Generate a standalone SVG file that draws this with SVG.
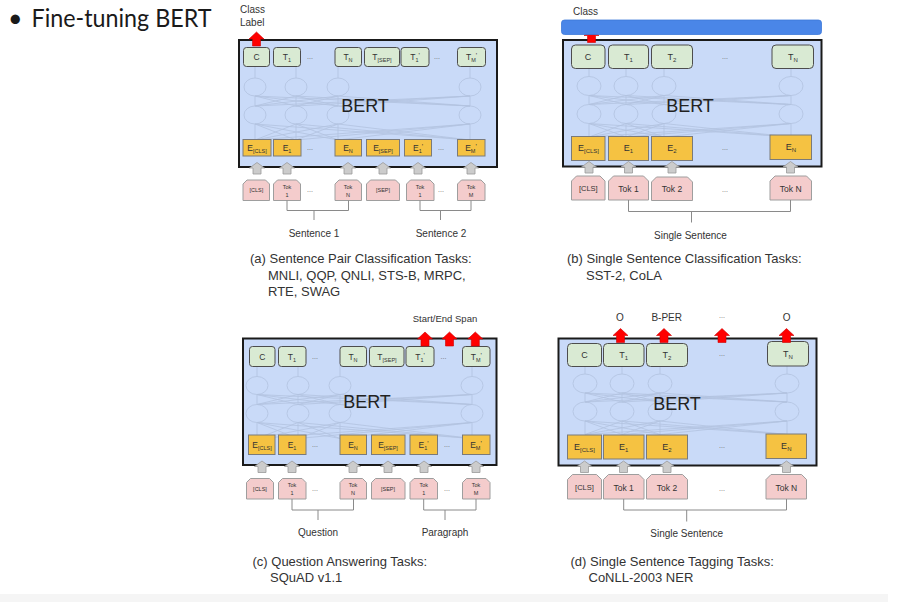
<svg xmlns="http://www.w3.org/2000/svg" xmlns:xlink="http://www.w3.org/1999/xlink" width="914" height="602" viewBox="0 0 914 602">
<style>
text{font-family:"Liberation Sans",Arial,sans-serif;fill:#333}
.bert{fill:#c9daf8;stroke:#1a1a1a;stroke-width:2}
.t{fill:#d9ead3;stroke:#4d4d4d;stroke-width:1}
.e{fill:#f5c242;stroke:#7a7a7a;stroke-width:1}
.tok{fill:#f4cccc;stroke:#9e9e9e;stroke-width:1;stroke-linejoin:round}
.mesh{fill:none;stroke:#afbfdc;stroke-width:0.8;opacity:0.85}
.br{fill:none;stroke:#8a8a8a;stroke-width:1}
.bt{font-size:18px;fill:#222;text-anchor:middle}
.s{font-size:8.5px;text-anchor:middle}
.sb{font-size:5.5px}
.pr{font-size:7px}
.L{font-size:9px;text-anchor:middle}
.Lb{font-size:6px}
.k{font-size:5.5px;text-anchor:middle}
.kb{font-size:8.5px;text-anchor:middle}
.d{font-size:7px;fill:#666;text-anchor:middle}
.lab{font-size:10px;text-anchor:middle}
.cap{font-size:13px;fill:#333}
</style>
<defs>
<path id="ra" d="M0,0 L7.5,7 L4,7 L4,14 L-4,14 L-4,7 L-7.5,7 Z" fill="#ff0000" stroke="#cc0000" stroke-width="0.6"/>
<path id="ga" d="M0,0 L7.5,5.5 L4,5.5 L4,11.5 L-4,11.5 L-4,5.5 L-7.5,5.5 Z" fill="#cccccc" stroke="#999999" stroke-width="0.8"/>
<g id="meshA" class="mesh">
<ellipse cx="255" cy="87" rx="11" ry="9"/><ellipse cx="296" cy="87" rx="11" ry="9"/><ellipse cx="338" cy="87" rx="11" ry="9"/><ellipse cx="470" cy="87" rx="11" ry="9"/>
<ellipse cx="255" cy="115" rx="11" ry="9"/><ellipse cx="296" cy="115" rx="11" ry="9"/><ellipse cx="338" cy="115" rx="11" ry="9"/><ellipse cx="470" cy="115" rx="11" ry="9"/>
<path d="M255,66.5V78M296,66.5V78M338,66.5V78M470,66.5V78
M255,96L255,106M255,96L296,106M255,96L338,106M255,96L470,106
M296,96L255,106M296,96L296,106M296,96L338,106M296,96L470,106
M338,96L255,106M338,96L296,106M338,96L338,106M338,96L470,106
M470,96L255,106M470,96L296,106M470,96L338,106M470,96L470,106
M255,124L255,140M255,124L296,140M255,124L338,140M255,124L470,140
M296,124L255,140M296,124L296,140M296,124L338,140M296,124L470,140
M338,124L255,140M338,124L296,140M338,124L338,140M338,124L470,140
M470,124L255,140M470,124L296,140M470,124L338,140M470,124L470,140"/>
</g>
<g id="meshB" class="mesh">
<ellipse cx="589" cy="86" rx="12" ry="9.5"/><ellipse cx="626" cy="86" rx="12" ry="9.5"/><ellipse cx="664" cy="86" rx="12" ry="9.5"/><ellipse cx="791" cy="86" rx="12" ry="9.5"/>
<ellipse cx="589" cy="114" rx="12" ry="9.5"/><ellipse cx="626" cy="114" rx="12" ry="9.5"/><ellipse cx="664" cy="114" rx="12" ry="9.5"/><ellipse cx="791" cy="114" rx="12" ry="9.5"/>
<path d="M589,68.5V76.5M626,68.5V76.5M664,68.5V76.5M791,68.5V76.5
M589,95.5L589,104.5M589,95.5L626,104.5M589,95.5L664,104.5M589,95.5L791,104.5
M626,95.5L589,104.5M626,95.5L626,104.5M626,95.5L664,104.5M626,95.5L791,104.5
M664,95.5L589,104.5M664,95.5L626,104.5M664,95.5L664,104.5M664,95.5L791,104.5
M791,95.5L589,104.5M791,95.5L626,104.5M791,95.5L664,104.5M791,95.5L791,104.5
M589,123.5L589,137M589,123.5L626,137M589,123.5L664,137M589,123.5L791,137
M626,123.5L589,137M626,123.5L626,137M626,123.5L664,137M626,123.5L791,137
M664,123.5L589,137M664,123.5L626,137M664,123.5L664,137M664,123.5L791,137
M791,123.5L589,137M791,123.5L626,137M791,123.5L664,137M791,123.5L791,137"/>
</g>
</defs>
<rect width="914" height="602" fill="#ffffff"/>
<rect x="0" y="594" width="888" height="8" fill="#f5f5f5"/>

<g id="title">
<text x="8" y="27" style="font-family:Lato,'Open Sans',sans-serif;font-size:25px;fill:#1a1a1a">•</text>
<text x="31.5" y="27" textLength="180" lengthAdjust="spacingAndGlyphs" style="font-family:Lato,'Open Sans',sans-serif;font-size:25px;fill:#1a1a1a">Fine-tuning BERT</text>
</g>

<!-- ================= Panel A ================= -->
<g id="panelA">
<g id="bertA">
<rect class="bert" x="239" y="40" width="258" height="127"/>
<use href="#meshA"/>
<text class="bt" x="365" y="111.5">BERT</text>
</g>
<g id="A_T">
<rect class="t" x="243.5" y="47.5" width="26" height="19" rx="3"/><text class="s" x="256.5" y="60">C</text>
<rect class="t" x="273.5" y="47.5" width="27" height="19" rx="3"/><text class="s" x="287" y="60">T<tspan class="sb" dy="2">1</tspan></text>
<text class="d" x="310" y="59">...</text>
<rect class="t" x="335" y="47.5" width="26.5" height="19" rx="3"/><text class="s" x="348" y="60">T<tspan class="sb" dy="2">N</tspan></text>
<rect class="t" x="364.5" y="47.5" width="35" height="19" rx="3"/><text class="s" x="382" y="60">T<tspan class="sb" dy="2">[SEP]</tspan></text>
<rect class="t" x="401" y="47.5" width="28" height="19" rx="3"/><text class="s" x="415" y="60">T<tspan class="sb" dy="2">1</tspan><tspan class="pr" dy="-4">'</tspan></text>
<text class="d" x="437" y="59">...</text>
<rect class="t" x="457.5" y="47.5" width="28" height="19" rx="3"/><text class="s" x="471.5" y="60">T<tspan class="sb" dy="2">M</tspan><tspan class="pr" dy="-4">'</tspan></text>
</g>
<g id="A_E">
<rect class="e" x="243" y="139.5" width="28" height="16.5"/><text class="s" x="257" y="151">E<tspan class="sb" dy="2">[CLS]</tspan></text>
<rect class="e" x="273.5" y="139.5" width="27.5" height="16.5"/><text class="s" x="287" y="151">E<tspan class="sb" dy="2">1</tspan></text>
<text class="d" x="310" y="150">...</text>
<rect class="e" x="335" y="139.5" width="26.5" height="16.5"/><text class="s" x="348" y="151">E<tspan class="sb" dy="2">N</tspan></text>
<rect class="e" x="366.5" y="139.5" width="33" height="16.5"/><text class="s" x="383" y="151">E<tspan class="sb" dy="2">[SEP]</tspan></text>
<rect class="e" x="404.5" y="139.5" width="27" height="16.5"/><text class="s" x="418" y="151">E<tspan class="sb" dy="2">1</tspan><tspan class="pr" dy="-4">'</tspan></text>
<text class="d" x="441" y="150">...</text>
<rect class="e" x="457.5" y="139.5" width="27.5" height="16.5"/><text class="s" x="471" y="151">E<tspan class="sb" dy="2">M</tspan><tspan class="pr" dy="-4">'</tspan></text>
</g>
<g id="A_Tok">
<path class="tok" d="M247,180H265.5L269.5,184V200.5H243V184Z"/><text class="k" x="256.3" y="192">[CLS]</text>
<path class="tok" d="M277.5,180H296.5L300.5,184V200.5H273.5V184Z"/><text class="k" x="287" y="188.5">Tok</text><text class="k" x="287" y="196.5">1</text>
<text class="d" x="310" y="192">...</text>
<path class="tok" d="M339,180H357.5L361.5,184V200.5H335V184Z"/><text class="k" x="348" y="188.5">Tok</text><text class="k" x="348" y="196.5">N</text>
<path class="tok" d="M370.5,180H395.5L399.5,184V200.5H366.5V184Z"/><text class="k" x="383" y="192">[SEP]</text>
<path class="tok" d="M410.5,180H430L434,184V200.5H406.5V184Z"/><text class="k" x="420" y="188.5">Tok</text><text class="k" x="420" y="196.5">1</text>
<text class="d" x="441" y="192">...</text>
<path class="tok" d="M461.5,180H481L485,184V200.5H457.5V184Z"/><text class="k" x="471" y="188.5">Tok</text><text class="k" x="471" y="196.5">M</text>
</g>
<g id="A_labels">
<text style="font-size:10px" x="240" y="13">Class</text>
<text style="font-size:10px" x="240" y="26">Label</text>
<text class="lab" x="314" y="236.5">Sentence 1</text>
<text class="lab" x="441" y="236.5">Sentence 2</text>
</g>
<g id="A_caption" class="cap">
<text class="cap" x="250" y="263">(a) Sentence Pair Classification Tasks:</text>
<text class="cap" x="268" y="279.5">MNLI, QQP, QNLI, STS-B, MRPC,</text>
<text class="cap" x="268" y="296">RTE, SWAG</text>
</g>
</g>

<!-- ================= Panel B ================= -->
<g id="panelB">
<g id="bertB">
<rect class="bert" x="563" y="40" width="258.5" height="126.5"/>
<use href="#meshB"/>
<text class="bt" x="690" y="111.5">BERT</text>
</g>
<g id="B_T">
<rect class="t" x="571.5" y="45" width="33.5" height="23.5" rx="4"/><text class="L" x="588" y="60">C</text>
<rect class="t" x="608.5" y="45" width="40" height="23.5" rx="4"/><text class="L" x="628.5" y="60">T<tspan class="Lb" dy="2">1</tspan></text>
<rect class="t" x="651.5" y="45" width="41" height="23.5" rx="4"/><text class="L" x="672" y="60">T<tspan class="Lb" dy="2">2</tspan></text>
<text class="d" x="725" y="59">...</text>
<rect class="t" x="772" y="45" width="41.5" height="23.5" rx="4"/><text class="L" x="793" y="60">T<tspan class="Lb" dy="2">N</tspan></text>
</g>
<g id="B_E">
<rect class="e" x="571.5" y="136.5" width="33.5" height="24"/><text class="L" x="588.5" y="151">E<tspan class="Lb" dy="2">[CLS]</tspan></text>
<rect class="e" x="608.5" y="136.5" width="40" height="24"/><text class="L" x="628.5" y="151">E<tspan class="Lb" dy="2">1</tspan></text>
<rect class="e" x="651.5" y="136.5" width="41" height="24"/><text class="L" x="672" y="151">E<tspan class="Lb" dy="2">2</tspan></text>
<text class="d" x="725" y="150">...</text>
<rect class="e" x="770" y="135" width="41.5" height="24.5"/><text class="L" x="791" y="150">E<tspan class="Lb" dy="2">N</tspan></text>
</g>
<g id="B_Tok">
<path class="tok" d="M576.5,176H600L605,181V200H571.5V181Z"/><text class="kb" x="588.3" y="191" style="font-size:7.5px">[CLS]</text>
<path class="tok" d="M613.5,176H643.5L648.5,181V200H608.5V181Z"/><text class="kb" x="628.5" y="191.5">Tok 1</text>
<path class="tok" d="M656.5,177H687.5L692.5,182V200.5H651.5V182Z"/><text class="kb" x="672" y="192">Tok 2</text>
<text class="d" x="725" y="192">...</text>
<path class="tok" d="M775,176H806.5L811.5,181V200H770V181Z"/><text class="kb" x="790.7" y="191.5">Tok N</text>
</g>
<g id="B_labels">
<text style="font-size:10px" x="573" y="15">Class</text>
<text class="lab" x="690.5" y="238.5">Single Sentence</text>
</g>
<g id="B_caption">
<text class="cap" x="567" y="263">(b) Single Sentence Classification Tasks:</text>
<text class="cap" x="586" y="279.5">SST-2, CoLA</text>
</g>
</g>

<!-- ================= Panel C ================= -->
<g id="panelC">
<g id="bertC">
<rect class="bert" x="243" y="338.5" width="253.5" height="126.5"/>
<use href="#meshA" transform="translate(2,298.5)"/>
<text class="bt" x="367" y="408">BERT</text>
</g>
<g id="C_T">
<rect class="t" x="249.5" y="346.5" width="25.5" height="20" rx="3"/><text class="s" x="262.3" y="359.5">C</text>
<rect class="t" x="278.5" y="346.5" width="27.5" height="20" rx="3"/><text class="s" x="292" y="359.5">T<tspan class="sb" dy="2">1</tspan></text>
<text class="d" x="315" y="358.5">...</text>
<rect class="t" x="340" y="346.5" width="26.5" height="20" rx="3"/><text class="s" x="353" y="359.5">T<tspan class="sb" dy="2">N</tspan></text>
<rect class="t" x="369.5" y="346.5" width="34.5" height="20" rx="3"/><text class="s" x="387" y="359.5">T<tspan class="sb" dy="2">[SEP]</tspan></text>
<rect class="t" x="406" y="346.5" width="28" height="20" rx="3"/><text class="s" x="420" y="359.5">T<tspan class="sb" dy="2">1</tspan><tspan class="pr" dy="-4">'</tspan></text>
<text class="d" x="443.5" y="358.5">...</text>
<rect class="t" x="462.5" y="346.5" width="27.5" height="20" rx="3"/><text class="s" x="476.3" y="359.5">T<tspan class="sb" dy="2">M</tspan><tspan class="pr" dy="-4">'</tspan></text>
</g>
<g id="C_E">
<rect class="e" x="248.5" y="435" width="26.5" height="19.5"/><text class="s" x="262" y="447.5">E<tspan class="sb" dy="2">[CLS]</tspan></text>
<rect class="e" x="278.5" y="435" width="27.5" height="19.5"/><text class="s" x="292" y="447.5">E<tspan class="sb" dy="2">1</tspan></text>
<text class="d" x="315" y="446.5">...</text>
<rect class="e" x="340" y="435" width="26.5" height="19.5"/><text class="s" x="353" y="447.5">E<tspan class="sb" dy="2">N</tspan></text>
<rect class="e" x="371.5" y="435" width="33.5" height="19.5"/><text class="s" x="388" y="447.5">E<tspan class="sb" dy="2">[SEP]</tspan></text>
<rect class="e" x="410" y="435" width="27.5" height="19.5"/><text class="s" x="423.5" y="447.5">E<tspan class="sb" dy="2">1</tspan><tspan class="pr" dy="-4">'</tspan></text>
<text class="d" x="447" y="446.5">...</text>
<rect class="e" x="462.5" y="435" width="27.5" height="19.5"/><text class="s" x="476" y="447.5">E<tspan class="sb" dy="2">M</tspan><tspan class="pr" dy="-4">'</tspan></text>
</g>
<g id="C_Tok">
<path class="tok" d="M250.5,478.5H269.5L273.5,482.5V499H246.5V482.5Z"/><text class="k" x="260" y="491">[CLS]</text>
<path class="tok" d="M282.5,478.5H302L306,482.5V499H278.5V482.5Z"/><text class="k" x="292" y="487">Tok</text><text class="k" x="292" y="495">1</text>
<text class="d" x="315" y="491">...</text>
<path class="tok" d="M344,478.5H362.5L366.5,482.5V499H340V482.5Z"/><text class="k" x="353" y="487">Tok</text><text class="k" x="353" y="495">N</text>
<path class="tok" d="M375.5,478.5H401L405,482.5V499H371.5V482.5Z"/><text class="k" x="388" y="491">[SEP]</text>
<path class="tok" d="M414,478.5H433.5L437.5,482.5V499H410V482.5Z"/><text class="k" x="423.7" y="487">Tok</text><text class="k" x="423.7" y="495">1</text>
<text class="d" x="447" y="491">...</text>
<path class="tok" d="M466.5,478.5H486L490,482.5V499H462.5V482.5Z"/><text class="k" x="476" y="487">Tok</text><text class="k" x="476" y="495">M</text>
</g>
<g id="C_labels">
<text class="lab" x="445" y="321.5" style="font-size:9.5px">Start/End Span</text>
<text class="lab" x="318" y="535.5">Question</text>
<text class="lab" x="445" y="535.5">Paragraph</text>
</g>
<g id="C_caption">
<text class="cap" x="252.5" y="566">(c) Question Answering Tasks:</text>
<text class="cap" x="270" y="581.5">SQuAD v1.1</text>
</g>
</g>

<!-- ================= Panel D ================= -->
<g id="panelD">
<g id="bertD">
<rect class="bert" x="558.5" y="338.5" width="258" height="127"/>
<use href="#meshB" transform="translate(-4,297.5)"/>
<text class="bt" x="677" y="410">BERT</text>
</g>
<g id="D_T">
<rect class="t" x="567.5" y="343.5" width="34" height="23" rx="4"/><text class="L" x="584.5" y="358">C</text>
<rect class="t" x="603.5" y="343.5" width="40.5" height="23" rx="4"/><text class="L" x="623.7" y="358">T<tspan class="Lb" dy="2">1</tspan></text>
<rect class="t" x="646.5" y="343.5" width="41" height="23" rx="4"/><text class="L" x="667" y="358">T<tspan class="Lb" dy="2">2</tspan></text>
<text class="d" x="722" y="356">...</text>
<rect class="t" x="767.5" y="341.5" width="41" height="24.5" rx="4"/><text class="L" x="788" y="357">T<tspan class="Lb" dy="2">N</tspan></text>
</g>
<g id="D_E">
<rect class="e" x="567.5" y="435" width="34" height="24"/><text class="L" x="584.5" y="449.5">E<tspan class="Lb" dy="2">[CLS]</tspan></text>
<rect class="e" x="603.5" y="435" width="40.5" height="24"/><text class="L" x="623.7" y="449.5">E<tspan class="Lb" dy="2">1</tspan></text>
<rect class="e" x="646.5" y="435" width="41" height="24"/><text class="L" x="667" y="449.5">E<tspan class="Lb" dy="2">2</tspan></text>
<text class="d" x="722" y="448">...</text>
<rect class="e" x="766" y="434" width="40.5" height="24.5"/><text class="L" x="786.3" y="448.5">E<tspan class="Lb" dy="2">N</tspan></text>
</g>
<g id="D_Tok">
<path class="tok" d="M572.5,474.5H596.5L601.5,479.5V499H567.5V479.5Z"/><text class="kb" x="584.5" y="490" style="font-size:7.5px">[CLS]</text>
<path class="tok" d="M608.5,474.5H639L644,479.5V499H603.5V479.5Z"/><text class="kb" x="623.7" y="490.5">Tok 1</text>
<path class="tok" d="M651.5,474.5H682.5L687.5,479.5V499H646.5V479.5Z"/><text class="kb" x="667" y="490.5">Tok 2</text>
<text class="d" x="722" y="491">...</text>
<path class="tok" d="M771,474.5H801.5L806.5,479.5V499H766V479.5Z"/><text class="kb" x="786.3" y="490.5">Tok N</text>
</g>
<g id="D_labels">
<text class="lab" x="620" y="321">O</text>
<text class="lab" x="666.7" y="321">B-PER</text>
<text class="d" x="722" y="318">...</text>
<text class="lab" x="786.7" y="321">O</text>
<text class="lab" x="686.7" y="537">Single Sentence</text>
</g>
<g id="D_caption">
<text class="cap" x="570.5" y="566">(d) Single Sentence Tagging Tasks:</text>
<text class="cap" x="588.5" y="581.5">CoNLL-2003 NER</text>
</g>
</g>

<!-- ================= Connectors ================= -->
<g id="connectors">
<!-- output arrows -->
<use href="#ra" x="256.5" y="32"/>
<use href="#ra" x="591.5" y="28.5"/>
<rect id="classBar" x="561.5" y="20" width="260" height="14.5" rx="3" fill="#4a86e8" stroke="#3c78d8" stroke-width="0.8"/>
<use href="#ra" x="425" y="332"/>
<use href="#ra" x="449.5" y="332"/>
<use href="#ra" x="475.3" y="332"/>
<use href="#ra" x="620.5" y="328.5"/>
<use href="#ra" x="664" y="328.5"/>
<use href="#ra" x="722" y="328.5"/>
<use href="#ra" x="786.5" y="328.5"/>
<!-- input arrows -->
<use href="#ga" x="257" y="162.5"/><use href="#ga" x="287" y="162.5"/><use href="#ga" x="348" y="162.5"/><use href="#ga" x="383" y="162.5"/><use href="#ga" x="418" y="162.5"/><use href="#ga" x="471" y="162.5"/>
<use href="#ga" x="589" y="161.5"/><use href="#ga" x="628.5" y="161.5"/><use href="#ga" x="672" y="161.5"/><use href="#ga" x="790.5" y="161.5"/>
<use href="#ga" x="262" y="461"/><use href="#ga" x="292" y="461"/><use href="#ga" x="353" y="461"/><use href="#ga" x="388" y="461"/><use href="#ga" x="424" y="461"/><use href="#ga" x="476" y="461"/>
<use href="#ga" x="584.5" y="461"/><use href="#ga" x="623.5" y="461"/><use href="#ga" x="667" y="461"/><use href="#ga" x="786.5" y="461"/>
<!-- brackets -->
<path class="br" d="M287,200.5V210.5H348.5V200.5M314,210.5V220"/>
<path class="br" d="M420,200.5V210.5H471V200.5M440.5,210.5V220"/>
<path class="br" d="M628.5,200V211.5H790.5V200M691.5,211.5V222.5"/>
<path class="br" d="M292,499V510H353.5V499M318,510V520"/>
<path class="br" d="M423.7,499V510H476V499M445,510V520"/>
<path class="br" d="M623.7,499V510H786.5V499M686.7,510V521.5"/>
</g>
</svg>
